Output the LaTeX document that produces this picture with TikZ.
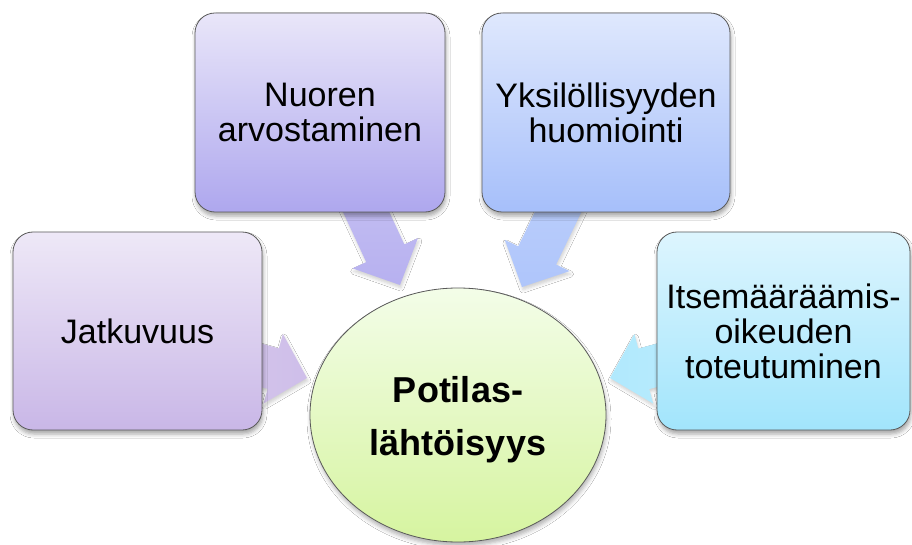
\documentclass[tikz,border=0pt]{standalone}
\usepackage{fontspec}
\setmainfont{Liberation Sans}
\usetikzlibrary{calc,shapes.geometric,shadows.blur}
\definecolor{jtop}{HTML}{EEE8F7}\definecolor{jbot}{HTML}{C9B7E7}
\definecolor{ntop}{HTML}{E9E6F9}\definecolor{nbot}{HTML}{AEA7EE}
\definecolor{ytop}{HTML}{DFE8FD}\definecolor{ybot}{HTML}{A6BFFA}
\definecolor{itop}{HTML}{DDF5FE}\definecolor{ibot}{HTML}{A2E5FC}
\definecolor{ctop}{HTML}{F3FDE8}\definecolor{cbot}{HTML}{D6F4A0}
\definecolor{edge}{HTML}{5A5A5A}
\newcommand\blockarrow[3]{%
  \coordinate (ab) at ($(#2)!35pt!(#1)$);
  \path[#3] ($(#1)!21pt!90:(#2)$) -- ($(ab)!21pt!90:(#2)$) -- ($(ab)!36pt!90:(#2)$)
    -- (#2) -- ($(ab)!36pt!-90:(#2)$) -- ($(ab)!21pt!-90:(#2)$) -- ($(#1)!21pt!-90:(#2)$) -- cycle;
}
\tikzset{
  box/.style={rectangle, rounded corners=20pt, draw=edge, line width=0.8pt,
    inner sep=0pt, align=center, font=\fontsize{34}{35}\selectfont,
    blur shadow={shadow xshift=1pt, shadow yshift=-4pt, shadow blur radius=4pt, shadow opacity=35}},
  hub/.style={ellipse, draw=edge, line width=0.8pt, inner sep=0pt, align=center,
    minimum width=296pt, minimum height=254pt, top color=ctop, bottom color=cbot,
    font=\fontsize{36}{53}\selectfont\bfseries,
    blur shadow={shadow xshift=1pt, shadow yshift=-4pt, shadow blur radius=4pt, shadow opacity=30}},
  fat/.style={blur shadow={shadow xshift=1pt, shadow yshift=-3pt, shadow blur radius=3pt, shadow opacity=18}}
}
\begin{document}
\begin{tikzpicture}[x=1pt,y=-1pt]
\useasboundingbox[fill=white] (0,0) rectangle (912,545);
% positions
\coordinate (jc) at (137.5,331);
\coordinate (nc) at (320,112.5);
\coordinate (yc) at (606,112.5);
\coordinate (ic) at (783.5,331);
\coordinate (tj) at (307,378);
\coordinate (tn) at (400,285);
\coordinate (ty) at (522,287);
\coordinate (ti) at (610,378);
% arrows (behind)
\blockarrow{jc}{tj}{fat, left color=jtop!45!jbot, right color=jtop!15!jbot}
\blockarrow{nc}{tn}{fat, top color=ntop!55!nbot, bottom color=ntop!15!nbot}
\blockarrow{yc}{ty}{fat, top color=ytop!55!ybot, bottom color=ytop!15!ybot}
\blockarrow{ic}{ti}{fat, right color=itop!55!ibot, left color=itop!25!ibot}
% boxes
\node[box, minimum width=249pt, minimum height=198pt, top color=jtop, bottom color=jbot] (jat) at (jc) {Jatkuvuus};
\node[box, minimum width=250pt, minimum height=199pt, top color=ntop, bottom color=nbot] (nuo) at (nc) {Nuoren\\arvostaminen};
\node[box, minimum width=248pt, minimum height=199pt, top color=ytop, bottom color=ybot] (yks) at (yc) {Yksilöllisyyden\\huomiointi};
\node[box, minimum width=253pt, minimum height=198pt, top color=itop, bottom color=ibot] (its) at (ic) {Itsemääräämis-\\oikeuden\\toteutuminen};
% hub
\node[hub] (pot) at (458,415) {\rule{0pt}{36pt}Potilas-\\lähtöisyys};
\end{tikzpicture}
\end{document}
